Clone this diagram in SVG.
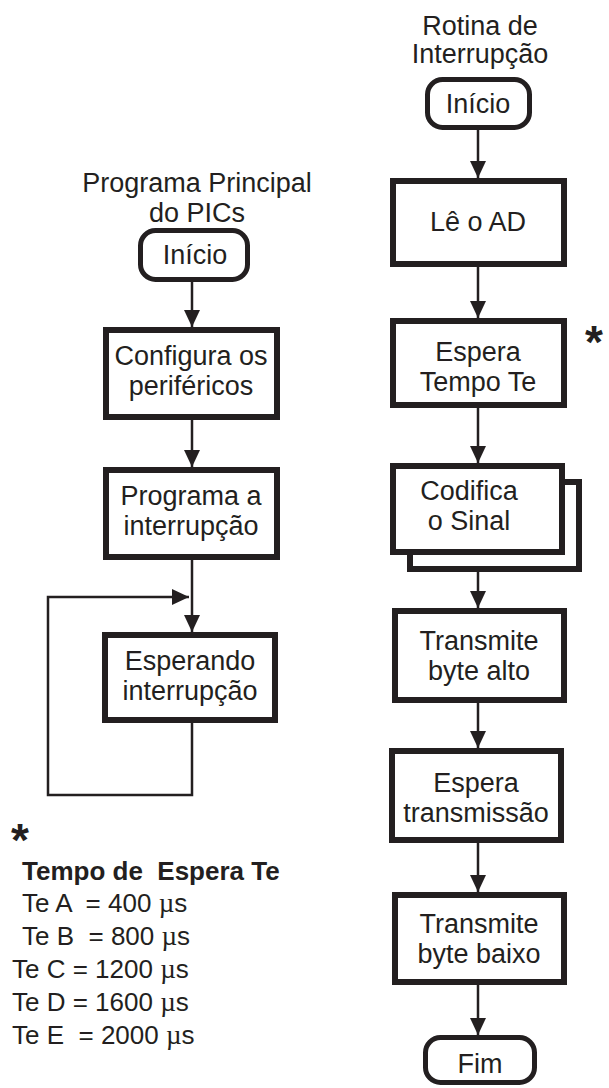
<svg xmlns="http://www.w3.org/2000/svg" width="609" height="1088" viewBox="0 0 609 1088">
<style>
.t{font-family:"Liberation Sans",Arial,sans-serif;font-size:27px;fill:#231f20;text-anchor:middle}
.l{font-family:"Liberation Sans",Arial,sans-serif;font-size:26px;fill:#231f20}
.mu{font-family:"Liberation Serif","Times New Roman",serif;font-size:27px}
.b{font-weight:bold}
.box{fill:#fff;stroke:#231f20;stroke-width:6}
.term{fill:#fff;stroke:#231f20;stroke-width:5}
.c{fill:none;stroke:#231f20;stroke-width:2.5}
</style>
<defs>
<marker id="ah" markerUnits="userSpaceOnUse" markerWidth="17" markerHeight="16" refX="17" refY="8" orient="auto">
<path d="M0,0 L17,8 L0,16 z" fill="#231f20"/>
</marker>
</defs>
<rect width="609" height="1088" fill="#fff"/>
<g id="connectors">
<path class="c" d="M192,282 V327" marker-end="url(#ah)"/>
<path class="c" d="M192,420 V467" marker-end="url(#ah)"/>
<path class="c" d="M192,560 V632" marker-end="url(#ah)"/>
<path class="c" d="M192,723 V795 H48 V597 H189" marker-end="url(#ah)"/>
<path class="c" d="M478,130 V178" marker-end="url(#ah)"/>
<path class="c" d="M478,267 V318" marker-end="url(#ah)"/>
<path class="c" d="M478,408 V463" marker-end="url(#ah)"/>
<path class="c" d="M478,572 V608" marker-end="url(#ah)"/>
<path class="c" d="M478,703 V748" marker-end="url(#ah)"/>
<path class="c" d="M478,843 V892" marker-end="url(#ah)"/>
<path class="c" d="M478,985 V1035" marker-end="url(#ah)"/>
</g>
<g id="title-main">
<text class="t" x="197" y="192">Programa Principal</text>
<text class="t" x="197" y="222">do PICs</text>
</g>
<g id="inicio-main">
<rect class="term" x="140.5" y="230.5" width="107" height="49" rx="15"/>
<text class="t" x="195" y="264">Início</text>
</g>
<g id="configura">
<rect class="box" x="106" y="330" width="171" height="87"/>
<text class="t" x="191" y="365">Configura os</text>
<text class="t" x="191" y="395">periféricos</text>
</g>
<g id="programa">
<rect class="box" x="106" y="470" width="171" height="87"/>
<text class="t" x="191" y="505">Programa a</text>
<text class="t" x="191" y="535">interrupção</text>
</g>
<g id="esperando">
<rect class="box" x="105" y="635" width="170" height="85"/>
<text class="t" x="190" y="670">Esperando</text>
<text class="t" x="190" y="700">interrupção</text>
</g>
<g id="legend">
<text class="l b" x="11" y="856" style="font-size:46px">*</text>
<text class="l b" x="22" y="880" xml:space="preserve">Tempo de  Espera Te</text>
<text class="l" x="22" y="912" xml:space="preserve">Te A  = 400 <tspan class="mu">µ</tspan>s</text>
<text class="l" x="22" y="945" xml:space="preserve">Te B  = 800 <tspan class="mu">µ</tspan>s</text>
<text class="l" x="12" y="978">Te C = 1200 <tspan class="mu">µ</tspan>s</text>
<text class="l" x="12" y="1011">Te D = 1600 <tspan class="mu">µ</tspan>s</text>
<text class="l" x="12" y="1044" xml:space="preserve">Te E  = 2000 <tspan class="mu">µ</tspan>s</text>
</g>
<g id="title-int">
<text class="t" x="480" y="35">Rotina de</text>
<text class="t" x="480" y="63">Interrupção</text>
</g>
<g id="inicio-int">
<rect class="term" x="427.5" y="79.5" width="102" height="48" rx="15"/>
<text class="t" x="478" y="113">Início</text>
</g>
<g id="le-ad">
<rect class="box" x="393" y="181" width="171" height="83"/>
<text class="t" x="478" y="231">Lê o AD</text>
</g>
<g id="espera-te">
<rect class="box" x="393" y="321" width="171" height="84"/>
<text class="t" x="478" y="361">Espera</text>
<text class="t" x="478" y="391">Tempo Te</text>
<text class="l b" x="585" y="358" style="font-size:46px">*</text>
</g>
<g id="codifica">
<rect class="box" x="410" y="482" width="169" height="87"/>
<rect class="box" x="393" y="466" width="169" height="86"/>
<text class="t" x="469" y="500">Codifica</text>
<text class="t" x="469" y="530">o Sinal</text>
</g>
<g id="transmite-alto">
<rect class="box" x="395" y="611" width="169" height="89"/>
<text class="t" x="479" y="650">Transmite</text>
<text class="t" x="479" y="680">byte alto</text>
</g>
<g id="espera-trans">
<rect class="box" x="392" y="751" width="169" height="89"/>
<text class="t" x="476" y="792">Espera</text>
<text class="t" x="476" y="822">transmissão</text>
</g>
<g id="transmite-baixo">
<rect class="box" x="395" y="895" width="169" height="87"/>
<text class="t" x="479" y="933">Transmite</text>
<text class="t" x="479" y="963">byte baixo</text>
</g>
<g id="fim">
<rect class="term" x="425.5" y="1037.5" width="109" height="45" rx="15"/>
<text class="t" x="480" y="1073">Fim</text>
</g>
</svg>
